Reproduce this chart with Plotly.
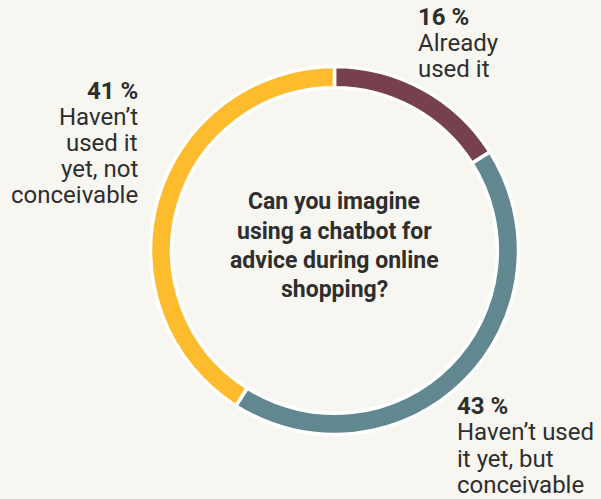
import plotly.graph_objects as go

# Survey answers (share of respondents, %)
categories = ["Already used it", "Haven’t used it yet, but conceivable", "Haven’t used it yet, not conceivable"]
shares = [16, 43, 41]
colors = ["#76404e", "#618791", "#fcbc2e"]

# Label lines drawn next to each slice (percentage in bold, then wrapped label)
label_lines = [
    ["Already", "used it"],
    ["Haven’t used", "it yet, but", "conceivable"],
    ["Haven’t", "used it", "yet, not", "conceivable"],
]
title_lines = ["Can you imagine", "using a chatbot for", "advice during online", "shopping?"]

W, H = 601, 499
BG = "#f7f6f1"
FONT = "Roboto"
TEXT_COLOR = "#2e2e2e"

# ring geometry in pixels
cx, cy, R = 334.5, 250.5, 184
hole = 0.885

fig = go.Figure(
    go.Pie(
        labels=categories,
        values=shares,
        marker=dict(colors=colors, line=dict(color="#ffffff", width=3.5)),
        hole=hole,
        sort=False,
        direction="clockwise",
        rotation=0,
        textinfo="none",
        hoverinfo="label+percent",
        showlegend=False,
        domain=dict(
            x=[(cx - R) / W, (cx + R) / W],
            y=[(H - cy - R) / H, (H - cy + R) / H],
        ),
    )
)

annotations = []


def add_block(lines, x, first_baseline, spacing, xanchor, bold_first, size):
    for i, line in enumerate(lines):
        mid = first_baseline + i * spacing - 8  # middle of the cap height
        txt = f"<b>{line}</b>" if (bold_first and i == 0) else line
        annotations.append(
            dict(
                text=txt,
                x=x / W,
                y=1 - mid / H,
                xref="paper",
                yref="paper",
                xanchor=xanchor,
                yanchor="middle",
                showarrow=False,
                font=dict(family=FONT, size=size, color=TEXT_COLOR),
                borderpad=0,
            )
        )


# slice labels: percentage on top, description below
label_anchors = [
    dict(x=417, first_baseline=25, spacing=26, xanchor="left"),
    dict(x=456, first_baseline=414, spacing=26.3, xanchor="left"),
    dict(x=139, first_baseline=99, spacing=26, xanchor="right"),
]
for share, lines, pos in zip(shares, label_lines, label_anchors):
    add_block([f"{share} %"] + lines, pos["x"], pos["first_baseline"], pos["spacing"],
              pos["xanchor"], True, 24)

# question in the centre of the ring
add_block([f"<b>{t}</b>" for t in title_lines], cx, 210, 29, "center", False, 23)

fig.update_layout(
    width=W,
    height=H,
    margin=dict(l=0, r=0, t=0, b=0),
    paper_bgcolor=BG,
    plot_bgcolor=BG,
    annotations=annotations,
)

fig.write_html("out.html")
